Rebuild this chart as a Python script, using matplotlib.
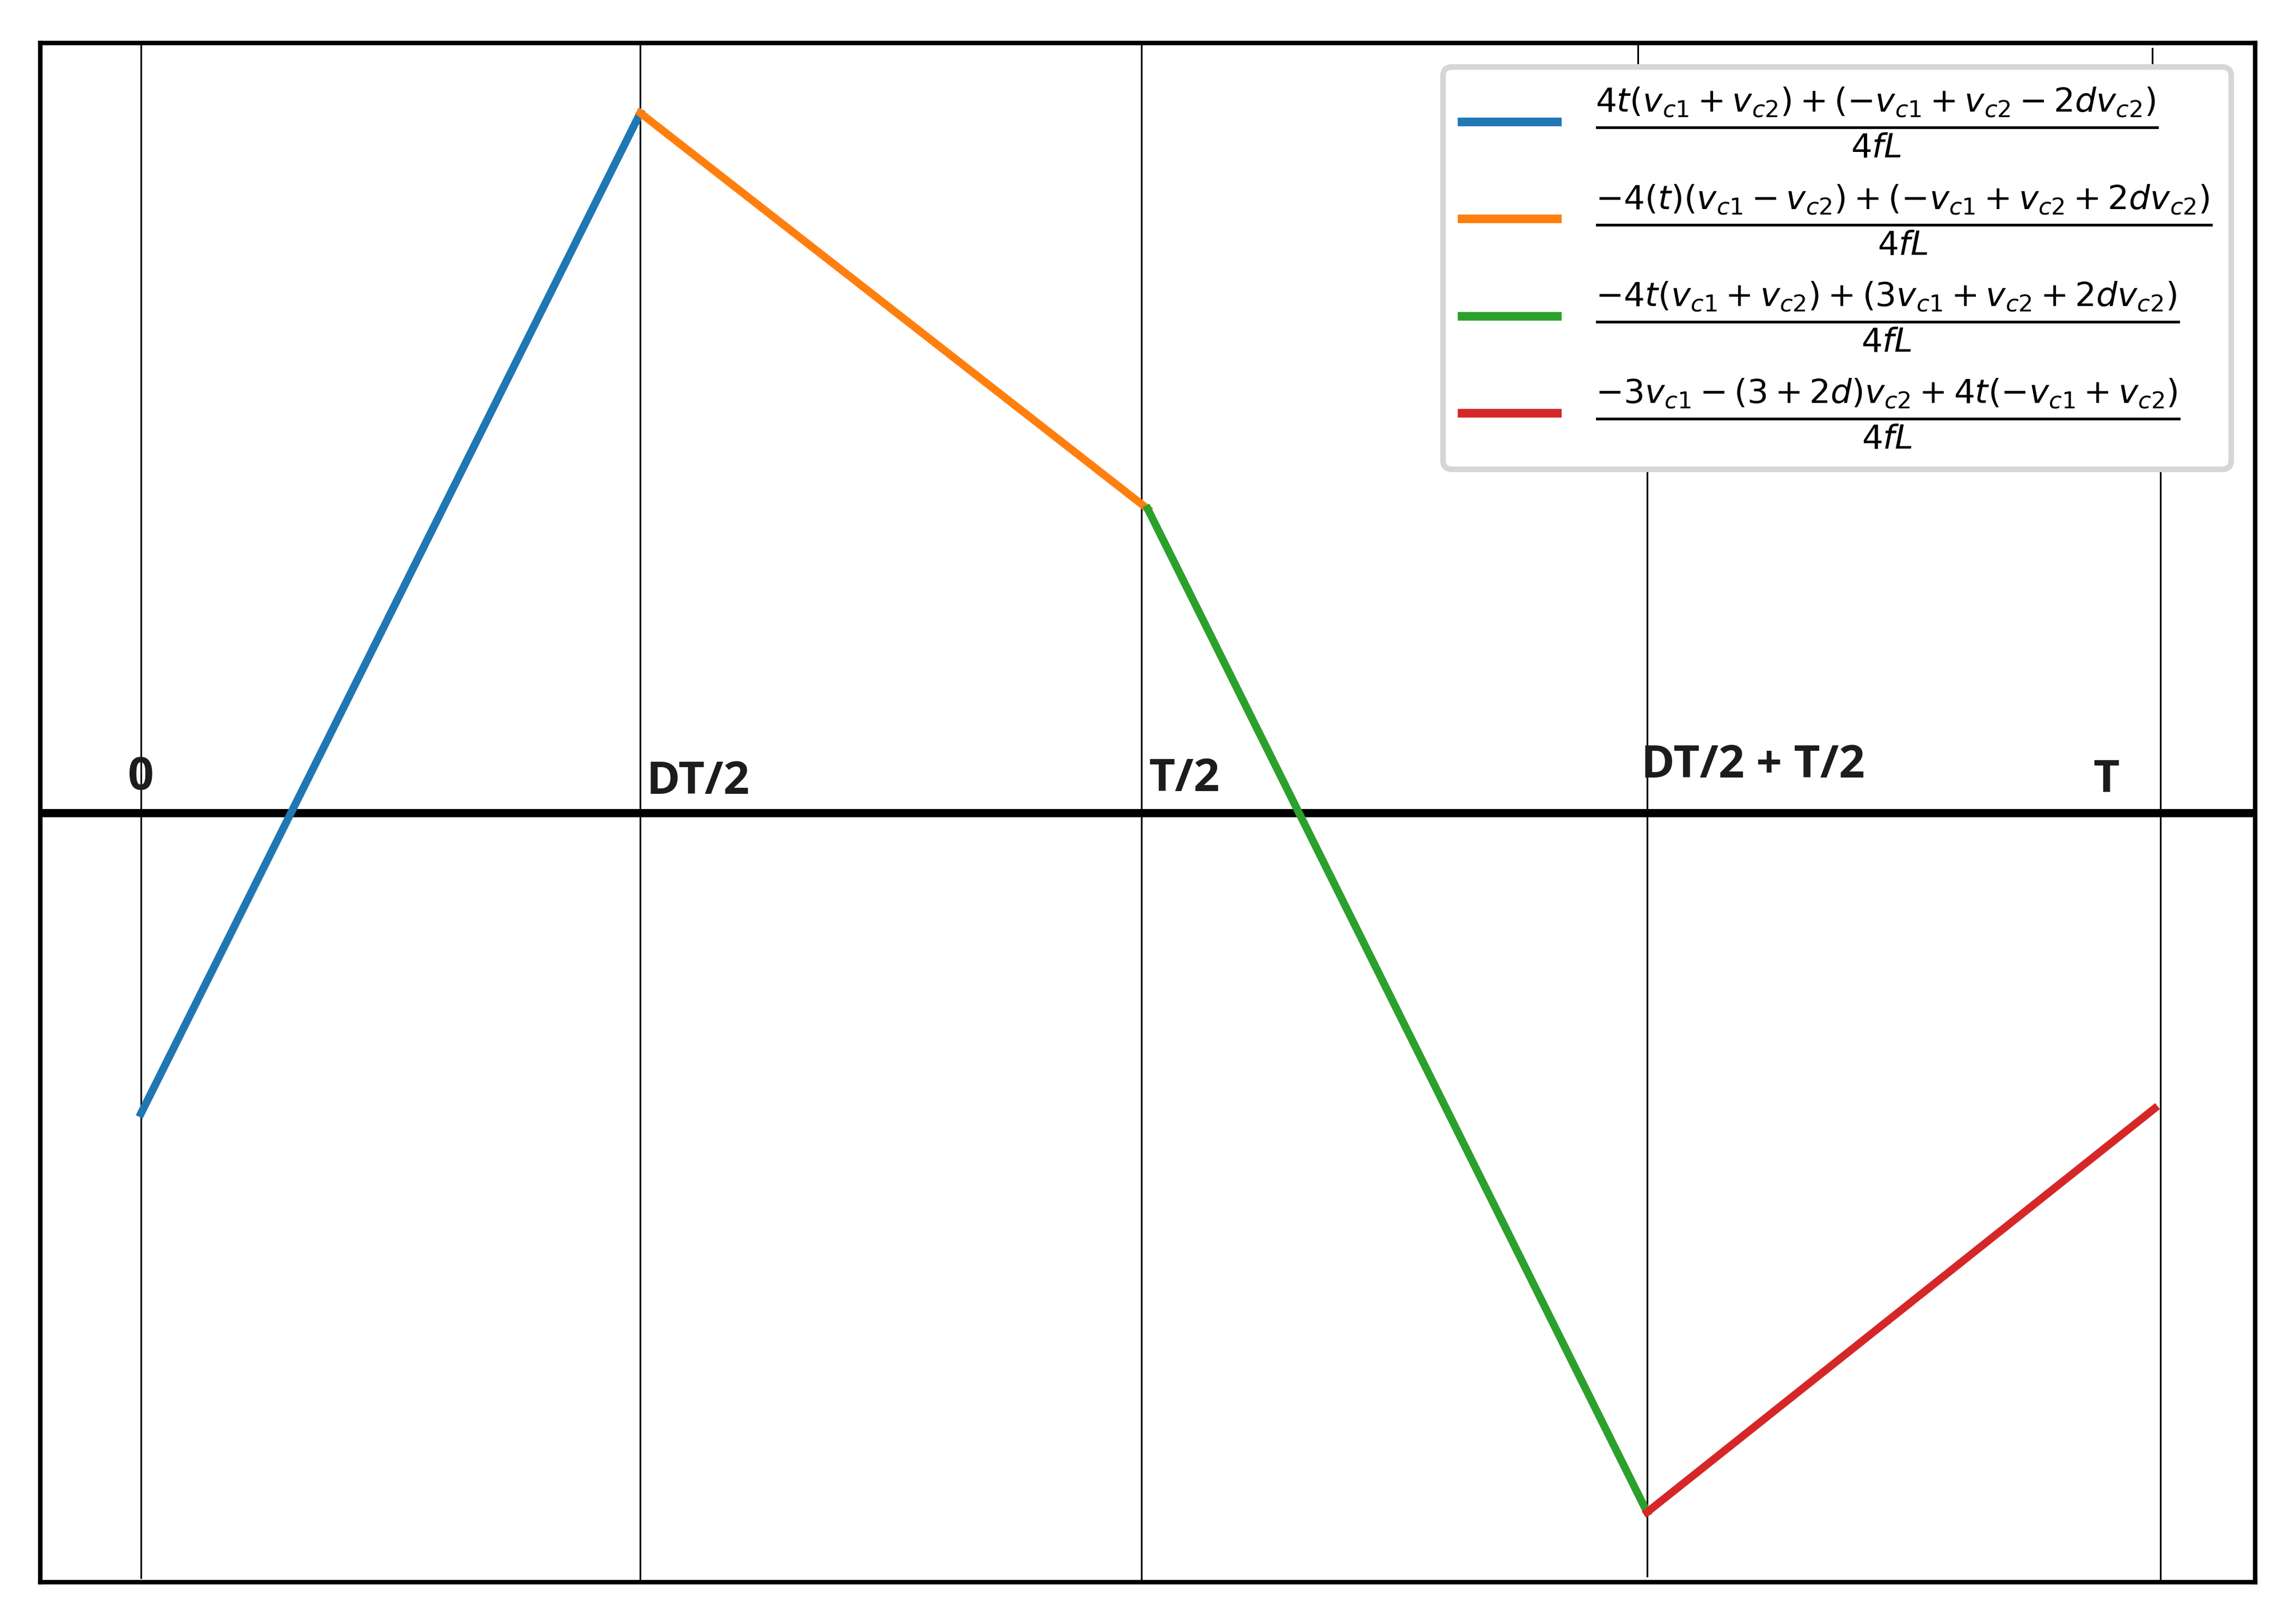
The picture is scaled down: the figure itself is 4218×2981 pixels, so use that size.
import matplotlib
matplotlib.use("Agg")
import matplotlib.pyplot as plt

# corner points of the current waveform (t as a fraction of T, i normalised)
t_knots = [0.0, 0.248, 0.5, 0.748, 1.0]
i_knots = [-0.430, 1.0, 0.434, -1.0, -0.423]

seg_labels = [
    r"$\frac{4t(v_{c1}+v_{c2})+(-v_{c1}+v_{c2}-2dv_{c2})}{4fL}$",
    r"$\frac{-4(t)(v_{c1}-v_{c2})+(-v_{c1}+v_{c2}+2dv_{c2})}{4fL}$",
    r"$\frac{-4t(v_{c1}+v_{c2})+(3v_{c1}+v_{c2}+2dv_{c2})}{4fL}$",
    r"$\frac{-3v_{c1}-(3+2d)v_{c2}+4t(-v_{c1}+v_{c2})}{4fL}$",
]
seg_colors = ["#1f77b4", "#ff7f0e", "#2ca02c", "#d62728"]

# time markers and their labels
mark_x = [0.0, 0.248, 0.497, 0.748, 1.003]
mark_names = ["0", "DT/2", "T/2", "DT/2 + T/2", "T"]
name_x = [0.0, 0.251, 0.5005, 0.745, 0.976]
name_y = [0.033, 0.027, 0.031, 0.050, 0.029]
name_ha = ["center", "left", "left", "left", "center"]

fig = plt.figure(figsize=(4218 / 300, 2981 / 300), dpi=300)
ax = fig.add_axes([74 / 4218, 75 / 2981, 4069 / 4218, 2827 / 2981])

for k in range(4):
    ax.plot(t_knots[k:k + 2], i_knots[k:k + 2], color=seg_colors[k],
            lw=3.4, label=seg_labels[k], solid_capstyle="projecting")

ax.axhline(0, color="black", lw=3.6, zorder=1)

vl = dict(color="black", lw=0.75, zorder=1)
ax.axvline(mark_x[0], ymin=0.003, ymax=1, **vl)
ax.axvline(mark_x[1], **vl)
ax.axvline(mark_x[2], **vl)
ax.axvline(mark_x[3], ymin=0.004, ymax=0.8, **vl)
ax.axvline(0.7435, ymin=0.8, ymax=1, **vl)
ax.axvline(mark_x[4], ymin=0, ymax=0.8, **vl)
ax.axvline(0.999, ymin=0.8, ymax=0.9965, **vl)

for nx, ny, name, ha in zip(name_x, name_y, mark_names, name_ha):
    ax.text(nx, ny, name, ha=ha, va="baseline", fontsize=20,
            fontweight="bold", family="Open Sans", color="#1c1c1c")

ax.set_xticks([])
ax.set_yticks([])
for sp in ax.spines.values():
    sp.set_linewidth(2)

leg = ax.legend(loc="upper right", fontsize=21, framealpha=1,
                edgecolor="#d6d6d6")
leg.get_frame().set_linewidth(2.5)
for ln in leg.get_lines():
    ln.set_linewidth(3.8)

fig.savefig("out.png", dpi=300)
